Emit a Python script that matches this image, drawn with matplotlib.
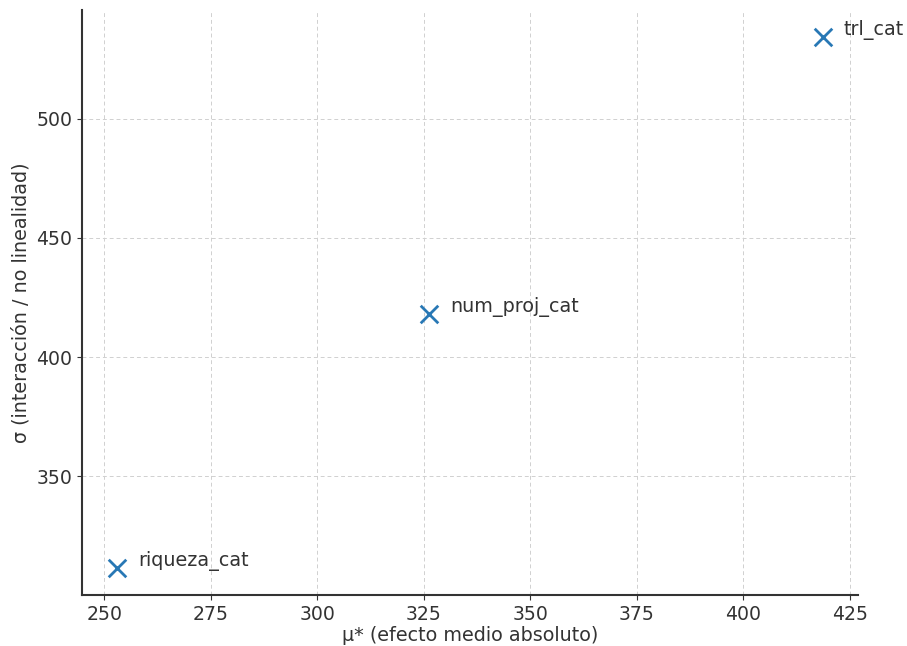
import matplotlib.pyplot as plt

plt.rcParams['font.family'] = ['DejaVu Sans']

variables = ['riqueza_cat', 'num_proj_cat', 'trl_cat']
mu_star = [253.0, 326.2, 418.6]
sigma = [311.3, 418.1, 534.5]

fig = plt.figure(figsize=(9.07, 6.46), dpi=100)
ax = fig.add_axes([82 / 907, 51 / 646, 776 / 907, 585 / 646])

ax.scatter(mu_star, sigma, marker='x', s=160, linewidths=2, color='#2878b5', zorder=3)
for name, x, y in zip(variables, mu_star, sigma):
    ax.annotate(name, (x, y), xytext=(15, 1.5), textcoords='offset points',
                fontsize=13.8, color='#333333')

ax.set_xlabel('μ* (efecto medio absoluto)', fontsize=13.8, color='#333333', labelpad=1.5)
ax.set_ylabel('σ (interacción / no linealidad)', fontsize=13.8, color='#333333')
ax.tick_params(labelsize=13.6, colors='#333333')
ax.set_yticks([350, 400, 450, 500])
ax.grid(True, linestyle=(0, (4, 3)), color='#d0d0d0', linewidth=0.7)
ax.set_axisbelow(True)
for side in ['top', 'right']:
    ax.spines[side].set_visible(False)
for side in ['left', 'bottom']:
    ax.spines[side].set_linewidth(1.5)
    ax.spines[side].set_color('#333333')

fig.savefig('out.png', dpi=100)
